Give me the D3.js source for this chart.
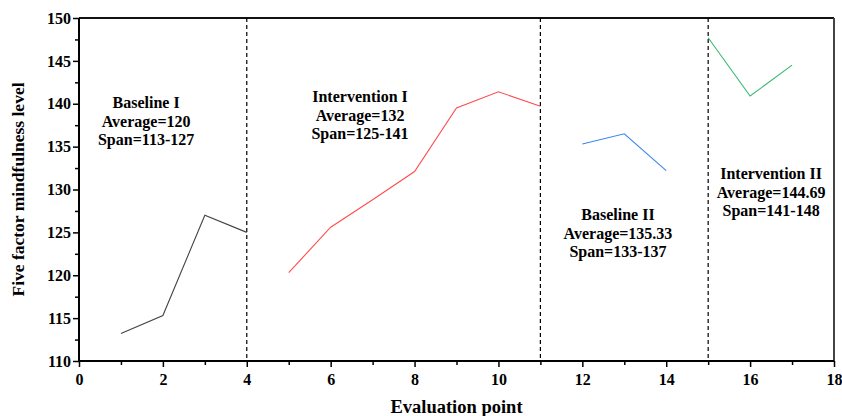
<!DOCTYPE html>
<html>
<head>
<meta charset="utf-8">
<script src="https://cdn.jsdelivr.net/npm/d3@7"></script>
<style>
  body { margin: 0; background: #fff; }
  text { font-family: "Liberation Serif", "Times New Roman", serif; font-weight: bold; }
</style>
</head>
<body>
<svg id="chart" width="842" height="416"></svg>
<script>
// phase data
const phaseNames = ['Baseline I', 'Intervention I', 'Baseline II', 'Intervention II'];
const phaseColors = ['#444444', '#ff4d4d', '#3a86f0', '#3cb874'];
const baseline1X = [1, 2, 3, 4];
const baseline1Y = [113.2, 115.3, 127.0, 125.0];
const intervention1X = [5, 6, 7, 8, 9, 10, 11];
const intervention1Y = [120.3, 125.6, 128.8, 132.1, 139.5, 141.4, 139.7];
const baseline2X = [12, 13, 14];
const baseline2Y = [135.3, 136.5, 132.2];
const intervention2X = [15, 16, 17];
const intervention2Y = [147.7, 140.9, 144.5];
const phaseBreaks = [4, 11, 15];
const xTicks = [0, 2, 4, 6, 8, 10, 12, 14, 16, 18];
const yTicks = [110, 115, 120, 125, 130, 135, 140, 145, 150];

// annotation text for each phase, with anchor in data units
const notes = [
  {lines: ['Baseline I', 'Average=120', 'Span=113-127'], x: 1.6, y: 139.5},
  {lines: ['Intervention I', 'Average=132', 'Span=125-141'], x: 6.7, y: 140.2},
  {lines: ['Baseline II', 'Average=135.33', 'Span=133-137'], x: 12.85, y: 126.4},
  {lines: ['Intervention II', 'Average=144.69', 'Span=141-148'], x: 16.5, y: 131.2}
];

const series = [
  {xs: baseline1X, ys: baseline1Y},
  {xs: intervention1X, ys: intervention1Y},
  {xs: baseline2X, ys: baseline2Y},
  {xs: intervention2X, ys: intervention2Y}
];

const margin = {left: 79, right: 8, top: 18, bottom: 55};
const width = 842, height = 416;

const svg = d3.select('#chart');

const x = d3.scaleLinear().domain([0, 18]).range([margin.left, width - margin.right]);
const y = d3.scaleLinear().domain([110, 150]).range([height - margin.bottom, margin.top]);

// frame top and right
svg.append('line')
    .attr('x1', x(0)).attr('x2', x(18))
    .attr('y1', y(150)).attr('y2', y(150))
    .attr('stroke', '#111').attr('stroke-width', 2);
svg.append('line')
    .attr('x1', x(18)).attr('x2', x(18))
    .attr('y1', y(150)).attr('y2', y(110))
    .attr('stroke', '#444').attr('stroke-width', 2);

// phase change lines
svg.selectAll('line.phase')
    .data(phaseBreaks)
    .enter().append('line')
    .attr('class', 'phase')
    .attr('x1', d => x(d)).attr('x2', d => x(d))
    .attr('y1', y(150)).attr('y2', y(110))
    .attr('stroke', '#000')
    .attr('stroke-width', 1.2)
    .attr('stroke-dasharray', '4,3');

// x axis
const xAxis = svg.append('g')
    .attr('transform', `translate(0,${y(110)})`)
    .call(d3.axisBottom(x).tickValues(d3.range(0, 19, 1)).tickSize(5)
        .tickFormat(d => xTicks.includes(d) ? d : ''));
xAxis.select('.domain').attr('stroke-width', 2).attr('d', `M${x(0)},0H${x(18)}`);
xAxis.selectAll('.tick line').attr('stroke-width', 1.5)
    .attr('y2', d => d % 2 === 0 ? 6 : 4);
xAxis.selectAll('text').attr('font-size', 16).attr('dy', '1.0em').attr('fill', '#000');

// y axis
const yAxis = svg.append('g')
    .attr('transform', `translate(${x(0)},0)`)
    .call(d3.axisLeft(y).tickValues(d3.range(110, 150.1, 2.5)).tickSize(5)
        .tickFormat(d => yTicks.includes(d) ? d : ''));
yAxis.select('.domain').attr('stroke-width', 2).attr('d', `M0,${y(110)}V${y(150)}`);
yAxis.selectAll('.tick line').attr('stroke-width', 1.5)
    .attr('x2', d => d % 5 === 0 ? -6 : -4);
yAxis.selectAll('text').attr('font-size', 16).attr('x', -8).attr('fill', '#000');

// series lines
const line = d3.line().x(d => x(d[0])).y(d => y(d[1]));
series.forEach((s, i) => {
  svg.append('path')
      .datum(d3.zip(s.xs, s.ys))
      .attr('d', line)
      .attr('fill', 'none')
      .attr('stroke', phaseColors[i])
      .attr('stroke-width', 1.1);
});

// phase notes
notes.forEach(n => {
  const t = svg.append('text')
      .attr('text-anchor', 'middle')
      .attr('font-size', 16)
      .attr('x', x(n.x))
      .attr('y', y(n.y));
  n.lines.forEach((l, j) => {
    t.append('tspan')
        .attr('x', x(n.x))
        .attr('dy', j === 0 ? 0 : 18.5)
        .text(l);
  });
});

// axis titles
svg.append('text')
    .attr('x', (x(0) + x(18)) / 2)
    .attr('y', 413)
    .attr('text-anchor', 'middle')
    .attr('font-size', 18.5)
    .text('Evaluation point');

svg.append('text')
    .attr('transform', `translate(24,${(y(110) + y(150)) / 2}) rotate(-90)`)
    .attr('text-anchor', 'middle')
    .attr('font-size', 17.5)
    .text('Five factor mindfulness level');
</script>
</body>
</html>
